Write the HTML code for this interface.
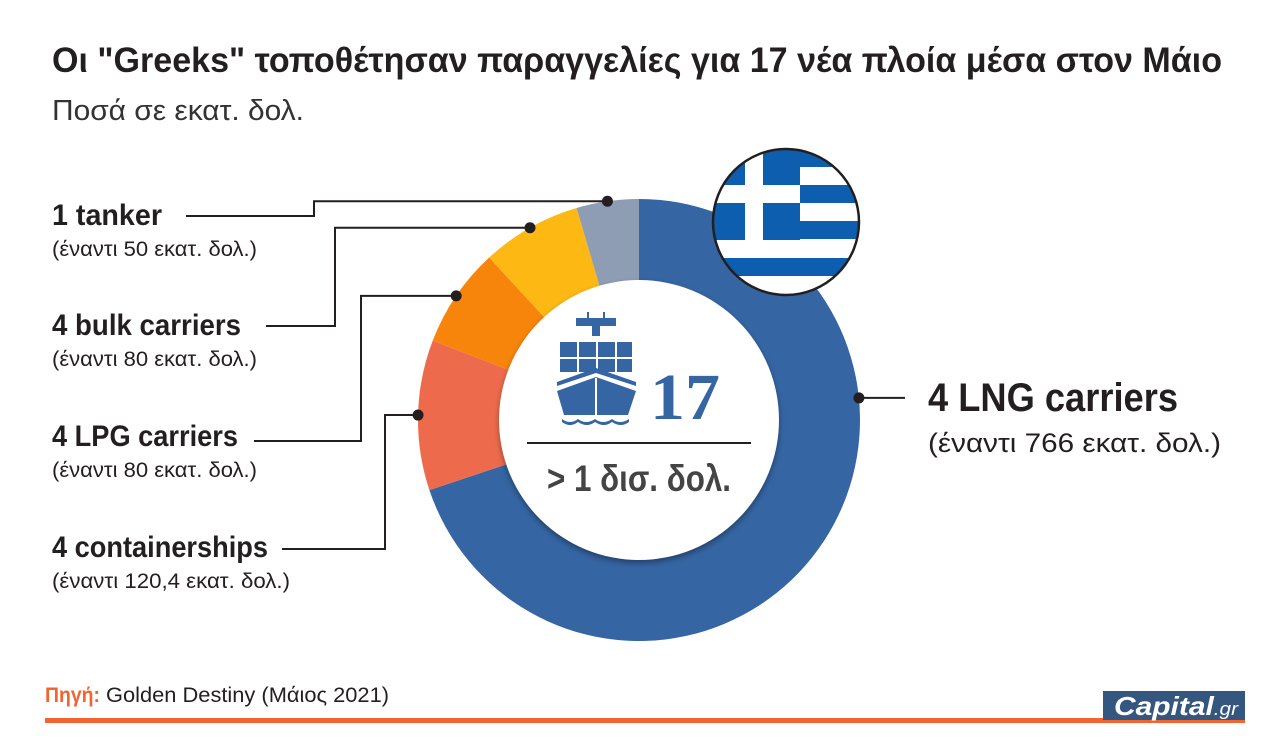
<!DOCTYPE html>
<html><head><meta charset="utf-8">
<style>
html,body{margin:0;padding:0;background:#fff;}
svg{display:block;}
text{font-family:"Liberation Sans Narrow","Liberation Sans",sans-serif;}
</style></head>
<body>
<svg id="chart" width="1280" height="753" viewBox="0 0 1280 753" xmlns="http://www.w3.org/2000/svg">
<defs>
<filter id="sh" x="-20%" y="-20%" width="140%" height="140%"><feGaussianBlur stdDeviation="3"/></filter>
<clipPath id="flagclip"><circle cx="786" cy="222" r="73"/></clipPath>
</defs>
<text x="52" y="72" font-size="35" font-weight="bold" fill="#231f20" textLength="1170" lengthAdjust="spacingAndGlyphs">Οι "Greeks" τοποθέτησαν παραγγελίες για 17 νέα πλοία μέσα στον Μάιο</text>
<text x="52" y="120" font-size="29" fill="#333" textLength="252" lengthAdjust="spacingAndGlyphs">Ποσά σε εκατ. δολ.</text>
<g id="donut"></g>
<g id="leaders"></g>
<circle cx="639" cy="423" r="140" fill="#000" opacity="0.35" filter="url(#sh)"/>
<circle cx="639" cy="420" r="140" fill="#fff"/>
<g fill="#3565a3">
<rect x="576" y="318" width="40" height="8"/><rect x="592" y="326" width="8" height="10"/>
<rect x="587" y="312" width="2" height="8"/><rect x="603" y="312" width="2" height="8"/>
<rect x="560" y="342" width="17" height="15"/><rect x="579" y="342" width="17" height="15"/><rect x="598" y="342" width="17" height="15"/><rect x="617" y="342" width="15" height="15"/>
<rect x="560" y="359" width="17" height="13"/><rect x="579" y="359" width="17" height="13"/><rect x="598" y="359" width="17" height="13"/><rect x="617" y="359" width="15" height="13"/>
<path d="M557 382 L596 368 L636 382 L636 386 L596 373 L557 386 Z"/>
<path d="M557 391 L596 377 L636 391 L628 415 L564 415 Z"/>
<path d="M562 419 q8 6 16 0 q8 6 17 0 q8 6 17 0 q8 6 17 0 l0 3 q-8 6 -17 0 q-8 6 -17 0 q-8 6 -17 0 q-8 6 -16 0 Z"/>
</g>
<rect x="595" y="378" width="2" height="37" fill="#fff"/>
<text x="650" y="419" font-size="66" font-weight="bold" fill="#3565a3" textLength="70" lengthAdjust="spacingAndGlyphs" style="font-family:'Liberation Serif',serif">17</text>
<line x1="527" y1="443" x2="751" y2="443" stroke="#231f20" stroke-width="2"/>
<text x="547" y="491" font-size="37" font-weight="bold" fill="#444" textLength="184" lengthAdjust="spacingAndGlyphs">&gt; 1 δισ. δολ.</text>
<g clip-path="url(#flagclip)">
<rect x="700" y="140" width="180" height="170" fill="#fff"/>
<rect x="700" y="148" width="180" height="19" fill="#0d5eaf"/>
<rect x="700" y="185" width="180" height="18" fill="#0d5eaf"/>
<rect x="700" y="221" width="180" height="18" fill="#0d5eaf"/>
<rect x="700" y="258" width="180" height="18" fill="#0d5eaf"/>
<rect x="700" y="294" width="180" height="18" fill="#0d5eaf"/>
<rect x="700" y="140" width="100" height="100" fill="#0d5eaf"/>
<rect x="745" y="140" width="18" height="100" fill="#fff"/>
<rect x="700" y="185" width="100" height="18" fill="#fff"/>
</g>
<circle cx="786" cy="222" r="73" fill="none" stroke="#231f20" stroke-width="2.5"/>
<g id="labels"></g>
<text x="45" y="702" font-size="21" font-weight="bold" fill="#f26430" textLength="55" lengthAdjust="spacingAndGlyphs">Πηγή:</text>
<text x="106" y="702" font-size="21" fill="#231f20" textLength="283" lengthAdjust="spacingAndGlyphs">Golden Destiny (Μάιος 2021)</text>
<rect x="45" y="718" width="1200" height="5" fill="#f26430"/>
<rect x="1103" y="691" width="142" height="29" fill="#35577f"/>
<text x="1114" y="715" font-size="26" font-weight="bold" font-style="italic" fill="#fff" textLength="124" lengthAdjust="spacingAndGlyphs">Capital<tspan font-size="18" font-weight="normal">.gr</tspan></text>
</svg>
<script>
const categories = ["4 LNG carriers", "4 containerships", "4 LPG carriers", "4 bulk carriers", "1 tanker"];
const values = [766, 120.4, 80, 80, 50];
const valueLabels = ["766", "120,4", "80", "80", "50"];
const colors = ["#3565a3", "#ed6b4c", "#f7850b", "#fdb813", "#8e9db3"];
const NS = "http://www.w3.org/2000/svg";
const cx = 639, cy = 420, R = 221, r0 = 138;
const total = values.reduce((a, b) => a + b, 0);
function angleScale(v) { return v / total * 2 * Math.PI; }
function pt(a, rad) { return [cx + rad * Math.sin(a), cy - rad * Math.cos(a)]; }
const donut = document.getElementById("donut");
const leaders = document.getElementById("leaders");
const labels = document.getElementById("labels");
let acc = 0;
const mids = [];
values.forEach((v, i) => {
  const a0 = angleScale(acc), a1 = angleScale(acc + v);
  acc += v;
  mids.push((a0 + a1) / 2);
  const [x0, y0] = pt(a0, R), [x1, y1] = pt(a1, R);
  const [x2, y2] = pt(a1, r0), [x3, y3] = pt(a0, r0);
  const large = (a1 - a0) > Math.PI ? 1 : 0;
  const p = document.createElementNS(NS, "path");
  p.setAttribute("d", `M${x0} ${y0} A${R} ${R} 0 ${large} 1 ${x1} ${y1} L${x2} ${y2} A${r0} ${r0} 0 ${large} 0 ${x3} ${y3} Z`);
  p.setAttribute("fill", colors[i]);
  
  
  donut.appendChild(p);
});
const leftLayout = {1: {ty: 557, lx: 282, bx: 385, ly: 549, w: 216, sw: 238}, 2: {ty: 446, lx: 254, bx: 361, ly: 441, w: 186, sw: 205}, 3: {ty: 335, lx: 266, bx: 335, ly: 326, w: 189, sw: 205}, 4: {ty: 225, lx: 186, bx: 314, ly: 216, w: 110, sw: 205}};
function addText(x, y, size, weight, txt, name, w) {
  const t = document.createElementNS(NS, "text");
  t.setAttribute("x", x); t.setAttribute("y", y);
  t.setAttribute("font-size", size); t.setAttribute("font-weight", weight);
  t.setAttribute("fill", "#231f20");
  t.setAttribute("textLength", w);
  t.setAttribute("lengthAdjust", "spacingAndGlyphs");
  t.textContent = txt;
  
  
  labels.appendChild(t);
}
function addLine(d) {
  const l = document.createElementNS(NS, "path");
  l.setAttribute("d", d); l.setAttribute("fill", "none");
  l.setAttribute("stroke", "#231f20"); l.setAttribute("stroke-width", "2");
  
  
  leaders.appendChild(l);
}
function addDot(x, y) {
  const c = document.createElementNS(NS, "circle");
  c.setAttribute("cx", x); c.setAttribute("cy", y); c.setAttribute("r", 5.5); c.setAttribute("fill", "#231f20");
  
  
  leaders.appendChild(c);
}
categories.forEach((c, i) => {
  if (i === 0) {
    const [dx, dy] = pt(Math.PI / 2 - 0.1, R);
    addLine(`M${dx} ${dy} L905 ${dy}`);
    addDot(dx, dy);
    addText(928, 411, 40, "bold", c, "lng-label", 250);
    addText(928, 452, 27, "normal", `(έναντι ${valueLabels[i]} εκατ. δολ.)`, "lng-value", 293);
  } else {
    const [dx, dy] = pt(mids[i], R);
    const L = leftLayout[i];
    addLine(`M${L.lx} ${L.ly} L${L.bx} ${L.ly} L${L.bx} ${dy} L${dx} ${dy}`);
    addDot(dx, dy);
    addText(52, L.ty, 30, "bold", c, "category-label", L.w);
    addText(52, L.ty + 31, 21, "normal", `(έναντι ${valueLabels[i]} εκατ. δολ.)`, "category-value", L.sw);
  }
});
</script>
</body></html>
